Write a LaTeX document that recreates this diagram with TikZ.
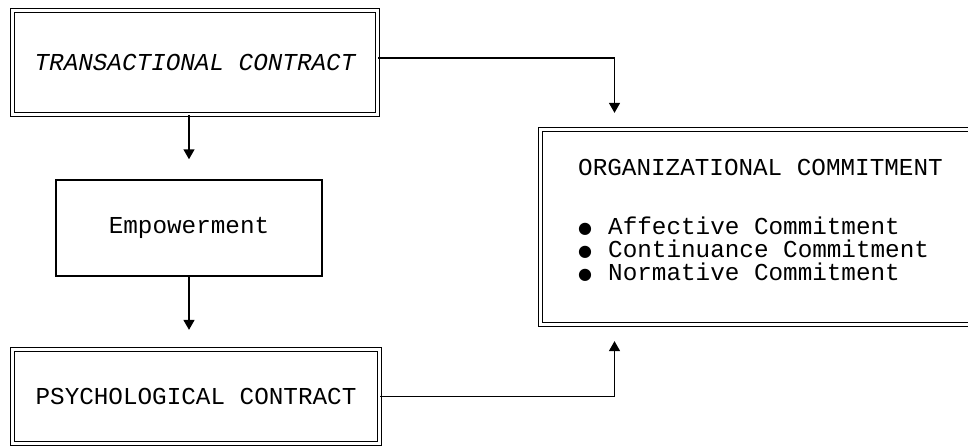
\documentclass[tikz,border=0pt]{standalone}
\usepackage{fontspec}
\setmainfont{Liberation Mono}
\newfontfamily\symfont{DejaVu Sans}
\usetikzlibrary{arrows.meta,positioning,calc}

\newcommand{\dotmark}{\makebox[30pt][l]{\raisebox{1pt}{\symfont\fontsize{16}{16}\selectfont ●}}}

\begin{document}
\begin{tikzpicture}[x=1pt, y=-1pt,
    box/.style={draw, line width=1.5pt, inner sep=0pt, align=center,
        font=\fontsize{24.3}{23}\selectfont},
    dbox/.style={box, line width=1.3pt, double, double distance=2.4pt},
    arrow/.style={line width=1.5pt, -{Triangle[length=10pt, width=11pt]}, shorten >=16pt},
    label/.style={anchor=base west, inner sep=0pt, font=\fontsize{24.3}{23}\selectfont}
]
    \useasboundingbox (0,0) rectangle (968,447);
    \clip (0,0) rectangle (968,447);

    % Left column
    \node[dbox, minimum width=365pt, minimum height=104pt] (trans) at (195,62.5) {\itshape TRANSACTIONAL CONTRACT};
    \node[box, minimum width=266pt, minimum height=96pt] (emp) at (189,228) {Empowerment};
    \node[dbox, minimum width=367pt, minimum height=94pt] (psych) at (196,396.5) {PSYCHOLOGICAL CONTRACT};

    % Outcome box (runs off the right edge)
    \node[dbox, minimum width=460pt, minimum height=195pt] (org) at (770.5,227) {};
    \node[label] (title) at (578,175) {ORGANIZATIONAL COMMITMENT};
    \node[label] (aff) at (578,234) {\dotmark Affective Commitment};
    \node[label] (cont) at (578,257) {\dotmark Continuance Commitment};
    \node[label] (norm) at (578,280) {\dotmark Normative Commitment};

    % Connections
    \coordinate (jn) at (614.5,0);
    \draw[arrow, shorten >=20pt] (trans.south -| emp.north) -- (emp.north);
    \draw[arrow, shorten >=19pt] (emp.south) -- (emp.south |- psych.north);
    \draw[arrow] ([yshift=4.5pt]trans.east) -| (org.north -| jn);
    \draw[arrow] (psych.east) -| (org.south -| jn);
\end{tikzpicture}
\end{document}
